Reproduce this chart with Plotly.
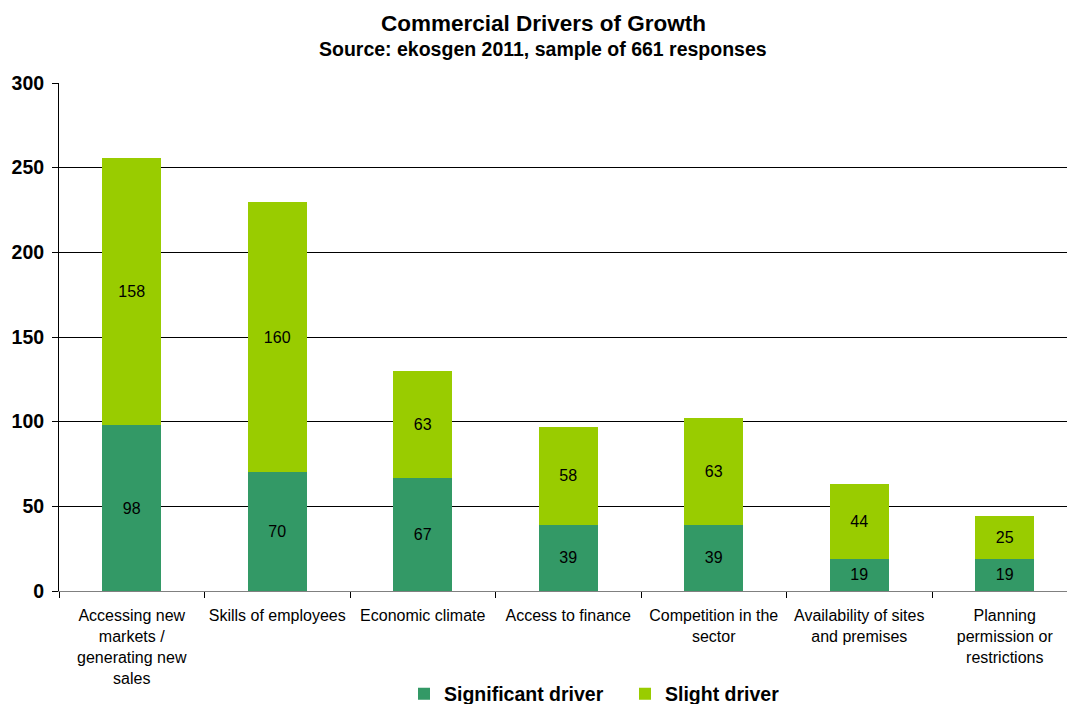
import plotly.graph_objects as go

categories = [
    "Accessing new<br>markets /<br>generating new<br>sales",
    "Skills of employees",
    "Economic climate",
    "Access to finance",
    "Competition in the<br>sector",
    "Availability of sites<br>and premises",
    "Planning<br>permission or<br>restrictions",
]
significant = [98, 70, 67, 39, 39, 19, 19]
slight = [158, 160, 63, 58, 63, 44, 25]
series_names = ["Significant driver", "Slight driver"]
series_colors = ["#339966", "#99CC00"]

y_ticks = [0, 50, 100, 150, 200, 250, 300]

FONT = "Liberation Sans, Arial"

fig = go.Figure()
for name, vals, col in zip(series_names, [significant, slight], series_colors):
    fig.add_trace(go.Bar(
        x=categories, y=vals, name="<b>" + name + "</b>",
        marker=dict(color=col, line=dict(width=0)),
        text=vals, textposition="inside", insidetextanchor="middle",
        textfont=dict(family=FONT, size=16, color="black"),
        constraintext="none",
    ))

W0, H0, PL, PR, PT, PB = 1067, 704, 59, 1067, 83, 591
CAT_W = 145.5  # pixel width of one category in the reference

def cy(pix):
    return 1 - pix / H0

def px(pix):
    return (pix - PL) / (PR - PL)

fig.update_layout(
    barmode="stack",
    bargap=0.595,
    width=W0, height=H0,
    paper_bgcolor="white", plot_bgcolor="white",
    margin=dict(l=PL, r=W0 - PR, t=PT, b=H0 - PB),
    font=dict(family=FONT, color="black"),
    showlegend=True,
    legend=dict(
        orientation="h", x=px(404), xanchor="left", xref="paper",
        yref="container", y=cy(694), yanchor="middle",
        font=dict(size=19.5, color="black", family=FONT),
        traceorder="normal", entrywidth=176, entrywidthmode="pixels",
    ),
    annotations=[
        dict(text="<b>Commercial Drivers of Growth</b>", xref="paper", yref="paper",
             x=px(543), y=(PB - 24) / (PB - PT), xanchor="center", yanchor="middle", showarrow=False,
             font=dict(size=22.5, color="black", family=FONT)),
        dict(text="<b>Source: ekosgen 2011, sample of 661 responses</b>", xref="paper", yref="paper",
             x=px(543), y=(PB - 49) / (PB - PT), xanchor="center", yanchor="middle", showarrow=False,
             font=dict(size=19.5, color="black", family=FONT)),
    ],
)

fig.update_xaxes(
    automargin=False, tickangle=0,
    range=[-0.5, -0.5 + (PR - PL) / CAT_W],
    tickson="boundaries", ticks="outside", ticklen=6, tickcolor="black",
    ticklabelstandoff=10,
    showline=True, linecolor="#808080", linewidth=1,
    tickfont=dict(size=16, color="black"),
    showgrid=False,
)
fig.update_yaxes(
    automargin=False,
    range=[0, 300], tickvals=y_ticks,
    ticktext=["<b>%d</b>" % v for v in y_ticks],
    ticks="outside", ticklen=6, tickcolor="black",
    ticklabelstandoff=4,
    showline=True, linecolor="black", linewidth=1,
    showgrid=True, gridcolor="black", gridwidth=1,
    tickfont=dict(size=19.5, color="black"),
    zeroline=False,
)

fig.write_html("out.html", config={"displayModeBar": False},
               post_script="document.body.style.margin='0';")
